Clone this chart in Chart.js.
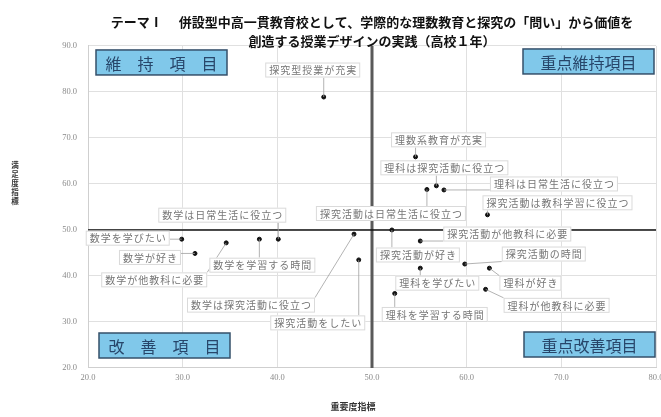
<!DOCTYPE html>
<html>
<head>
<meta charset="utf-8">
<script src="https://cdn.jsdelivr.net/npm/chart.js@4/dist/chart.umd.min.js"></script>
<style>
  html, body { margin: 0; padding: 0; background: #fff; overflow: hidden; }
  #wrap { width: 661px; height: 417px; }
</style>
</head>
<body>
<div id="wrap"><canvas id="chart" width="661" height="417"></canvas></div>
<script>
// survey items, importance (x) and satisfaction (y)
const ITEMS = [
  "探究型授業が充実", "数学は日常生活に役立つ", "数学を学びたい", "数学が好き",
  "数学が他教科に必要", "数学を学習する時間", "数学は探究活動に役立つ", "探究活動をしたい",
  "理数系教育が充実", "理科は探究活動に役立つ", "理科は日常生活に役立つ", "探究活動は教科学習に役立つ",
  "探究活動は日常生活に役立つ", "探究活動が他教科に必要", "探究活動が好き", "探究活動の時間",
  "理科を学びたい", "理科が好き", "理科が他教科に必要", "理科を学習する時間"
];
const IMPORTANCE = [44.9, 40.1, 29.9, 31.3, 34.6, 38.1, 48.1, 48.6,
                    54.6, 56.8, 57.6, 62.2, 55.8, 55.1, 52.1, 59.8,
                    55.1, 62.4, 62.0, 52.4];
const SATISFACTION = [78.9, 48.0, 48.0, 44.9, 47.2, 48.0, 49.1, 43.5,
                      65.9, 59.6, 58.7, 53.3, 58.8, 47.6, 50.0, 42.6,
                      41.7, 41.7, 37.1, 36.2];

// axis ranges and quadrant split
const X_MIN = 20, X_MAX = 80, Y_MIN = 20, Y_MAX = 90, STEP = 10;
const SPLIT_X = 50, SPLIT_Y = 50;
const QUADRANTS = ["維　持　項　目", "重点維持項目", "改　善　項　目", "重点改善項目"];

const TITLE = [
  "テーマⅠ　 併設型中高一貫教育校として、学際的な理数教育と探究の「問い」から価値を",
  "創造する授業デザインの実践（高校１年）"
];
const X_TITLE = "重要度指標";
const Y_TITLE = "満足度指標";

// where each callout sits, in px from its point
const LABEL_OFFSETS = [
  [-11, -27], [-56, -24], [-54, -1], [-45, 4],
  [-72, 37], [3, 26], [-103, 71], [-41, 63],
  [23, -17], [8, -18], [110, -6], [70, -12],
  [-36, 24], [87, -7], [26, 25], [79, -10],
  [17, 15], [41, 15], [71, 16], [40, 21]
];

const points = IMPORTANCE.map((x, i) => ({ x: x, y: SATISFACTION[i] }));

// callouts, quadrant boxes and axis titles
const overlay = {
  id: "overlay",
  afterDatasetsDraw(chart) {
    const ctx = chart.ctx;
    const xs = chart.scales.x, ys = chart.scales.y;
    const area = chart.chartArea;

    ctx.save();
    ctx.font = '10px "Noto Sans CJK JP"';
    ctx.letterSpacing = "1px";
    const boxes = ITEMS.map((t, i) => {
      const px = xs.getPixelForValue(IMPORTANCE[i]);
      const py = ys.getPixelForValue(SATISFACTION[i]);
      const w = ctx.measureText(t).width + 7, h = 15;
      const cx = px + LABEL_OFFSETS[i][0], cy = py + LABEL_OFFSETS[i][1];
      return { t, px, py, x: cx - w / 2, y: cy - h / 2, w, h, cx, cy };
    });

    // leader lines
    ctx.strokeStyle = "#a0a0a0";
    ctx.lineWidth = 0.8;
    boxes.forEach(b => {
      const qx = Math.min(Math.max(b.px, b.x), b.x + b.w);
      const qy = Math.min(Math.max(b.py, b.y), b.y + b.h);
      ctx.beginPath();
      ctx.moveTo(b.px, b.py);
      ctx.lineTo(qx, qy);
      ctx.stroke();
    });

    // callout boxes
    boxes.forEach(b => {
      ctx.fillStyle = "#fff";
      ctx.fillRect(b.x, b.y, b.w, b.h);
      ctx.strokeStyle = "#dadada";
      ctx.lineWidth = 1;
      ctx.strokeRect(b.x + 0.5, b.y + 0.5, b.w - 1, b.h - 1);
      ctx.fillStyle = "#767676";
      ctx.textAlign = "center";
      ctx.textBaseline = "middle";
      ctx.fillText(b.t, b.cx + 0.5, b.cy + 0.5);
    });
    ctx.letterSpacing = "0px";

    // quadrant name boxes
    const qw = 131, qh = 25;
    const qpos = [
      [area.left + 8, area.top + 4],
      [area.right - 133, area.top + 3],
      [area.left + 11, area.bottom - 35],
      [area.right - 132, area.bottom - 36]
    ];
    ctx.font = '16px "Noto Sans CJK JP"';
    QUADRANTS.forEach((q, i) => {
      const [x, y] = qpos[i];
      ctx.fillStyle = "#80c8ea";
      ctx.fillRect(x, y, qw, qh);
      ctx.strokeStyle = "#35506a";
      ctx.lineWidth = 1.5;
      ctx.strokeRect(x, y, qw, qh);
      ctx.fillStyle = "#27466a";
      ctx.textAlign = "center";
      ctx.textBaseline = "middle";
      ctx.fillText(q, x + qw / 2, y + qh / 2 + 1);
    });

    // axis titles (y one is stacked upright)
    ctx.fillStyle = "#333";
    ctx.textAlign = "center";
    ctx.textBaseline = "middle";
    ctx.font = 'bold 7.5px "Noto Sans CJK JP"';
    Array.from(Y_TITLE).forEach((c, i) => {
      ctx.fillText(c, 15, 165 + i * 9);
    });
    ctx.font = 'bold 9px "Noto Sans CJK JP"';
    ctx.fillText(X_TITLE, 353, 407);
    ctx.restore();
  }
};

const tickFont = { family: '"Liberation Serif", serif', size: 8.5 };

new Chart(document.getElementById("chart"), {
  type: "scatter",
  data: {
    datasets: [
      {
        data: points,
        backgroundColor: "#111",
        borderColor: "#111",
        pointRadius: 2,
        order: 0
      },
      {
        data: [{ x: SPLIT_X, y: Y_MIN }, { x: SPLIT_X, y: Y_MAX }],
        showLine: true,
        borderColor: "#5a5a5a",
        borderWidth: 3,
        pointRadius: 0,
        order: 2
      },
      {
        data: [{ x: X_MIN, y: SPLIT_Y }, { x: X_MAX, y: SPLIT_Y }],
        showLine: true,
        borderColor: "#111",
        borderWidth: 1.5,
        pointRadius: 0,
        order: 1
      }
    ]
  },
  options: {
    responsive: false,
    animation: false,
    events: [],
    layout: { padding: { left: 0, right: 4, top: 0, bottom: 0 } },
    scales: {
      x: {
        type: "linear",
        min: X_MIN,
        max: X_MAX,
        ticks: {
          stepSize: STEP,
          callback: v => v.toFixed(1),
          font: tickFont,
          color: "#8a8a8a",
          padding: 5,
          maxRotation: 0
        },
        grid: { color: "#e0e0e0", drawTicks: false },
        border: { color: "#cfcfcf" },
        afterFit: s => { s.paddingLeft = 0; s.paddingRight = 0; s.height = 49; }
      },
      y: {
        type: "linear",
        min: Y_MIN,
        max: Y_MAX,
        ticks: {
          stepSize: STEP,
          callback: v => v.toFixed(1),
          font: tickFont,
          color: "#8a8a8a",
          padding: 11
        },
        grid: { color: "#e0e0e0", drawTicks: false },
        border: { color: "#cfcfcf" },
        afterFit: s => { s.width = 88; s.paddingTop = 0; s.paddingBottom = 0; }
      }
    },
    plugins: {
      legend: { display: false },
      tooltip: { enabled: false },
      title: {
        display: true,
        fullSize: false,
        text: TITLE,
        color: "#111",
        font: { family: '"Noto Sans CJK JP"', size: 13, weight: "bold", lineHeight: 1.46 },
        padding: { top: 12.5, bottom: -4.5 }
      }
    }
  },
  plugins: [overlay]
});
</script>
</body>
</html>
